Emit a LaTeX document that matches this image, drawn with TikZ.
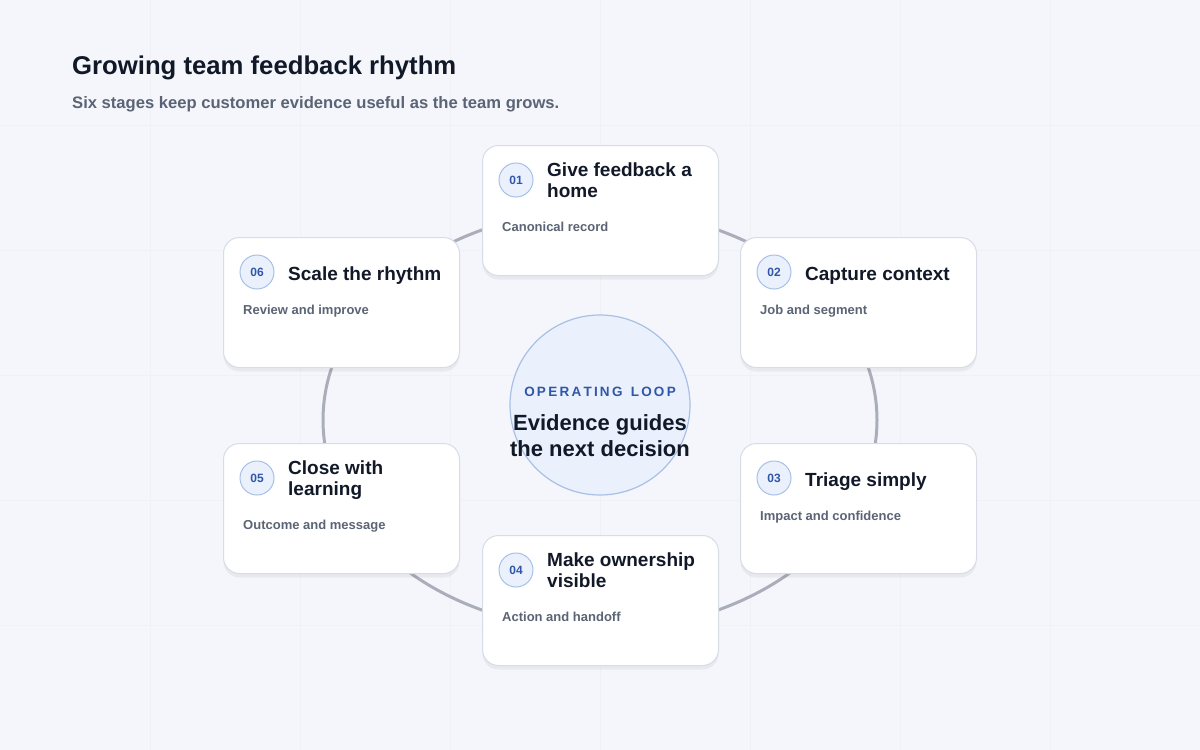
\documentclass[tikz,border=0pt]{standalone}
\usepackage{fontspec}
\setmainfont{Liberation Sans}
\usetikzlibrary{shadows}
\definecolor{ink}{HTML}{111827}
\definecolor{muted}{HTML}{5B6475}
\definecolor{accent}{HTML}{2F56A8}
\definecolor{ring}{HTML}{A9AEBA}
\definecolor{edge}{HTML}{D7DCE6}
\definecolor{badge}{HTML}{EAF1FC}
\definecolor{badgeline}{HTML}{A9C0E6}
\definecolor{bg}{HTML}{F4F6FB}
\tikzset{
  card/.style={draw=edge, line width=1pt, fill=white, rounded corners=16pt,
    minimum width=236pt, minimum height=130pt, anchor=north west,
    drop shadow={shadow xshift=0pt, shadow yshift=-4pt, opacity=0.05, fill=black}},
  num/.style={circle, draw=badgeline, fill=badge, line width=1pt, minimum size=34pt,
    inner sep=0pt, font=\fontsize{12}{14}\selectfont\bfseries, text=accent},
  head/.style={anchor=north west, align=left, text=ink, inner sep=0pt,
    font=\fontsize{19}{21}\selectfont\bfseries},
  note/.style={anchor=north west, text=muted, inner sep=0pt,
    font=\fontsize{13}{15}\selectfont\bfseries}
}
\newcommand{\stage}[6]{% name, x, y, number, title, note
  \node[card] (#1) at (#2,#3) {};
  \node[num] (#1n) at (#2+34,#3+35) {#4};
  \node[head] (#1t) at (#2+65,#3+18) {#5};
  \node[note] (#1s) at (#2+20,#3+77) {#6};
}
\newcommand{\stageone}[6]{% same, one-line title
  \node[card] (#1) at (#2,#3) {};
  \node[num] (#1n) at (#2+34,#3+35) {#4};
  \node[head, anchor=west] (#1t) at (#2+65,#3+39) {#5};
  \node[note] (#1s) at (#2+20,#3+68) {#6};
}
\begin{document}
\begin{tikzpicture}[x=1pt,y=-1pt]
  \fill[bg] (0,0) rectangle (1200,750);
  \useasboundingbox (0,0) rectangle (1200,750);
  % faint grid
  \foreach \gx in {150,300,...,1050} \draw[white!60!edge, line width=0.5pt] (\gx,0) -- (\gx,750);
  \foreach \gy in {125,250,...,625} \draw[white!60!edge, line width=0.5pt] (0,\gy) -- (1200,\gy);

  \node[anchor=west, text=ink, font=\fontsize{25.7}{28}\selectfont\bfseries, inner sep=0pt] (title) at (72,68) {Growing team feedback rhythm};
  \node[anchor=west, text=muted, font=\fontsize{16.6}{18}\selectfont\bfseries, inner sep=0pt] (sub) at (72,104) {Six stages keep customer evidence useful as the team grows.};

  % loop
  \coordinate (hub) at (600,420);
  \draw[ring, line width=3pt] (hub) ellipse[x radius=277, y radius=210];
  \node[circle, draw=badgeline, fill=badge, line width=1.2pt, minimum size=180pt] (core) at (600,405) {};
  \node[text=accent, font=\fontsize{13.5}{16}\selectfont\bfseries, inner sep=0pt] (corek) at (600,392) {O\,P\,E\,R\,A\,T\,I\,N\,G\, \,L\,O\,O\,P};
  \node[text=ink, align=center, font=\fontsize{22}{26}\selectfont\bfseries, inner sep=0pt] (coret) at (600,436) {Evidence guides\\the next decision};

  \stage{s1}{482}{145}{01}{Give feedback a\\home}{Canonical record}
  \stageone{s2}{740}{237}{02}{Capture context}{Job and segment}
  \stageone{s3}{740}{443}{03}{Triage simply}{Impact and confidence}
  \stage{s4}{482}{535}{04}{Make ownership\\visible}{Action and handoff}
  \stage{s5}{223}{443}{05}{Close with\\learning}{Outcome and message}
  \stageone{s6}{223}{237}{06}{Scale the rhythm}{Review and improve}
\end{tikzpicture}
\end{document}
